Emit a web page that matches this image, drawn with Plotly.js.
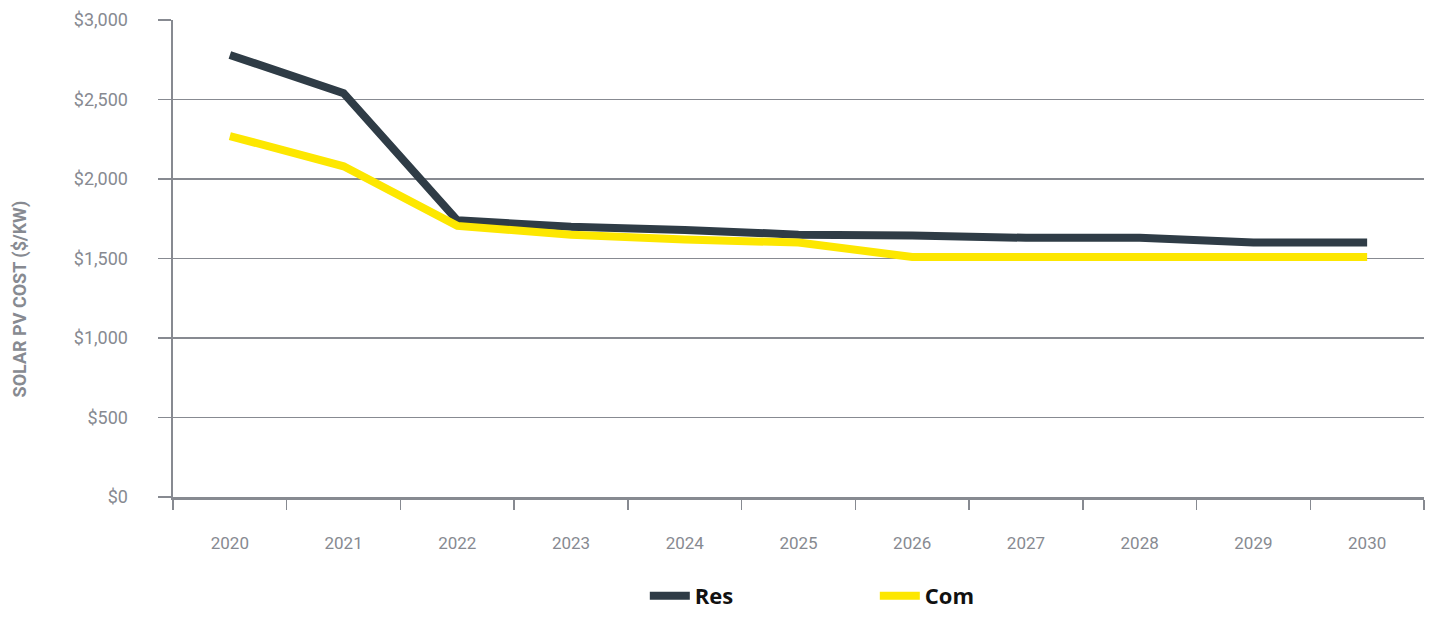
<!DOCTYPE html>
<html>
<head>
<meta charset="utf-8">
<script src="https://cdn.plot.ly/plotly-3.0.1.min.js"></script>
<style>html,body{margin:0;padding:0;background:#fff;}#chart{width:1433px;height:617px;}</style>
</head>
<body>
<div id="chart"></div>
<script>
const years = ["2020","2021","2022","2023","2024","2025","2026","2027","2028","2029","2030"];
const resCost = [2780, 2540, 1740, 1700, 1680, 1650, 1645, 1630, 1630, 1600, 1600];
const comCost = [2270, 2080, 1705, 1650, 1620, 1600, 1510, 1510, 1510, 1510, 1510];
const seriesNames = ["Res", "Com"];
const yTitle = "SOLAR PV COST ($/KW)";

const condensed = "Roboto, 'Liberation Sans', sans-serif";
const gray = "#878a91";

const traces = [
  {x: years, y: resCost, name: seriesNames[0], type: "scatter", mode: "lines",
   line: {color: "#2f3c46", width: 8}},
  {x: years, y: comCost, name: seriesNames[1], type: "scatter", mode: "lines",
   line: {color: "#fde700", width: 8}}
];

const layout = {
  width: 1433, height: 617,
  margin: {l: 173, r: 9, t: 20, b: 120, autoexpand: false},
  paper_bgcolor: "#fff", plot_bgcolor: "#fff",
  showlegend: true,
  legend: {orientation: "h", x: 0.561, xanchor: "center", xref: "paper",
           yref: "container", y: -0.009, yanchor: "bottom",
           font: {family: "'Open Sans', 'Liberation Sans', sans-serif", size: 22, color: "#111", weight: 700},
           entrywidth: 175, entrywidthmode: "pixels",
           itemwidth: 40, traceorder: "normal"},
  xaxis: {type: "category", range: [-0.5, 10.5], tickson: "boundaries",
          ticks: "outside", ticklen: 10, tickwidth: 1.5, tickcolor: gray,
          showline: true, linecolor: gray, linewidth: 3,
          showgrid: false, zeroline: false,
          ticklabelstandoff: 29,
          tickfont: {family: condensed, size: 17, color: gray}},
  yaxis: {range: [0, 3000], dtick: 500, tick0: 0, tickprefix: "$", tickformat: ",",
          ticks: "outside", ticklen: 13, tickwidth: 1.5, tickcolor: gray,
          showline: true, linecolor: gray, linewidth: 2.5,
          showgrid: true, gridcolor: gray, gridwidth: 1.2,
          zeroline: false, ticklabelstandoff: 26,
          tickfont: {family: condensed, size: 18, color: gray}},
  annotations: [
    {text: "<b>" + yTitle + "</b>", xref: "paper", yref: "paper",
     x: -0.122, y: 0.415, xanchor: "center", yanchor: "middle",
     textangle: -90, showarrow: false,
     font: {family: condensed, size: 18, color: gray}}
  ]
};

Plotly.newPlot("chart", traces, layout, {displayModeBar: false, staticPlot: true});
</script>
</body>
</html>
